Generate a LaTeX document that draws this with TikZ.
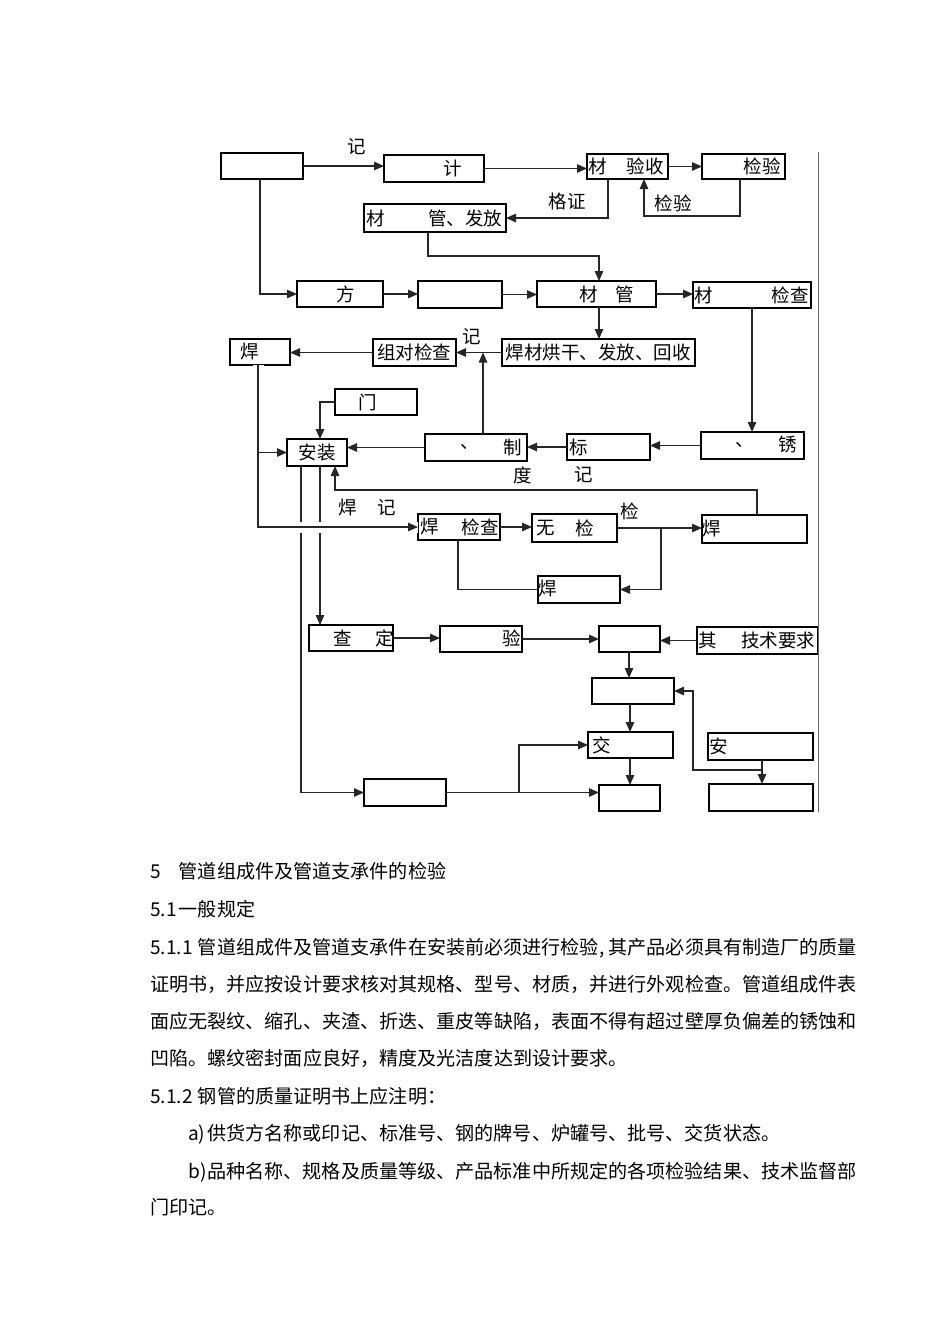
\documentclass[tikz,border=0pt]{standalone}
\usepackage{fontspec}
\setmainfont{Noto Sans CJK SC}
\usetikzlibrary{arrows.meta}
\tikzset{
 box/.style={draw, line width=1.3pt, inner sep=0pt, outer sep=0pt, rectangle},
 conn/.style={line width=1.2pt, draw=black!85},
 arr/.style={conn, -{Triangle[length=10pt,width=8.5pt]}},
 lbl/.style={inner sep=0pt, font=\fontsize{18.5}{18.5}\selectfont},
 body/.style={inner sep=0pt, anchor=base west, font=\fontsize{19.1}{19.1}\selectfont},
}
\newcommand\bx[5]{\node[box, minimum width={(#4-#2)*1pt}, minimum height={(#5-#3)*1pt}] (#1) at ({(#2+#4)/2},{(#3+#5)/2}) {};}
\begin{document}
\begin{tikzpicture}[x=1pt,y=-1pt]
\useasboundingbox (0,0) rectangle (950,1344);
% boxes
\bx{A}{221}{153}{303}{179}
\bx{B}{384}{155}{484}{182}
\bx{C}{587}{154}{668}{179}
\bx{D}{702}{154}{785}{179}
\bx{E}{364}{204}{506}{232}
\bx{F}{297}{281}{383}{307}
\bx{G}{418}{281}{502}{308}
\bx{H}{537}{281}{656}{307}
\bx{I}{693}{282}{811}{308}
\bx{J}{230}{339}{290}{365}
\bx{K}{373}{339}{456}{366}
\bx{L}{502}{339}{695}{366}
\bx{M}{335}{389}{417}{415}
\bx{N}{287}{439}{347}{466}
\bx{O}{425}{434}{527}{461}
\bx{P}{567}{434}{650}{460}
\bx{Q}{701}{432}{804}{459}
\bx{R}{418}{514}{500}{540}
\bx{S}{532}{514}{617}{542}
\bx{T}{702}{515}{807}{543}
\bx{U}{538}{576}{620}{603}
\bx{V}{309}{625}{393}{651}
\bx{W}{440}{626}{522}{652}
\bx{X}{599}{626}{660}{652}
\bx{Y}{697}{627}{818}{654}
\bx{Z}{592}{678}{674}{704}
\bx{AA}{588}{732}{673}{758}
\bx{AB}{708}{733}{813}{760}
\bx{AC}{364}{779}{446}{806}
\bx{AD}{599}{785}{660}{811}
\bx{AE}{709}{784}{813}{811}
% right frame line
\draw[line width=1pt, black!60] (818,152) -- (818,812);
% texts in diagram
\node[lbl] (t1) at (357,147) {记};
\node[lbl] (t2) at (453,168) {计};
\node[lbl] (t3) at (598,166) {材};
\node[lbl] (t4) at (645,166) {验收};
\node[lbl] (t5) at (762,166) {检验};
\node[lbl] (t6) at (567,201) {格证};
\node[lbl] (t7) at (673,203) {检验};
\node[lbl] (t8) at (376,218) {材};
\node[lbl] (t9) at (465,218) {管、发放};
\node[lbl] (t10) at (346,294) {方};
\node[lbl] (t11) at (589,294) {材};
\node[lbl] (t12) at (625,294) {管};
\node[lbl] (t13) at (704,295) {材};
\node[lbl] (t14) at (790,295) {检查};
\node[lbl] (t15) at (250,352) {焊};
\node[lbl] (t16) at (414,352) {组对检查};
\node[lbl] (t17) at (472,337) {记};
\node[lbl] (t18) at (598,352) {焊材烘干、发放、回收};
\node[lbl] (t19) at (368,402) {门};
\node[lbl] (t20) at (317,452) {安装};
\node[lbl] (t21) at (470,447) {、};
\node[lbl] (t22) at (513,447) {制};
\node[lbl] (t23) at (579,447) {标};
\node[lbl] (t24) at (745,445) {、};
\node[lbl] (t25) at (788,445) {锈};
\node[lbl] (t26) at (523,475) {度};
\node[lbl] (t27) at (584,475) {记};
\node[lbl] (t28) at (348,508) {焊};
\node[lbl] (t29) at (387,508) {记};
\node[lbl] (t30) at (430,527) {焊};
\node[lbl] (t31) at (480,527) {检查};
\node[lbl] (t32) at (546,528) {无};
\node[lbl] (t33) at (585,528) {检};
\node[lbl] (t34) at (630,511) {检};
\node[lbl] (t35) at (712,529) {焊};
\node[lbl] (t36) at (548,589) {焊};
\node[lbl] (t37) at (343,638) {查};
\node[lbl] (t38) at (385,638) {定};
\node[lbl] (t39) at (512,638) {验};
\node[lbl] (t40) at (708,640) {其};
\node[lbl] (t41) at (778,640) {技术要求};
\node[lbl] (t42) at (602,745) {交};
\node[lbl] (t43) at (719,746) {安};
% connectors
\draw[arr] (A.east) -- (A.east -| B.west);
\draw[arr] (B.east) -- (B.east -| C.west);
\draw[arr] (C.east) -- (C.east -| D.west);
\draw[arr] (C.south -| 608,0) |- (E.east);
\draw[arr] (D.south -| 740,0) -- ++(0,37) -| (C.south -| 644,0);
\draw[arr] (E.south -| 428,0) -- ++(0,24) -| (H.north -| 599,0);
\draw[arr] (A.south -| 260,0) |- (F.west);
\draw[arr] (F.east) -- (F.east -| G.west);
\draw[arr] (G.east) -- (G.east -| H.west);
\draw[arr] (H.east) -- (H.east -| I.west);
\draw[arr] (H.south -| 599,0) -- (L.north -| 599,0);
\draw[arr] (I.south -| 752,0) -- (Q.north -| 752,0);
\draw[arr] (L.west) -- (L.west -| K.east);
\draw[arr] (K.west) -- (K.west -| J.east);
\draw[arr] (O.north -| 483,0) -- (483,0 |- K.east);
\draw[arr] (Q.west) -- (Q.west -| P.east);
\draw[arr] (P.west) -- (P.west -| O.east);
\draw[arr] (O.west) -- (O.west -| N.east);
\draw[arr] (M.west) -| (N.north -| 320,0);
\draw[arr] (T.north -| 757,0) -- ++(0,-25) -| (N.south -| 335,0);
% lines from N downward (drawn before the crossing line)
\draw[arr] (N.south -| 301,0) |- (AC.west);
\draw[arr] (N.south -| 320,0) -- (V.north -| 320,0);
% J line with gap at crossings
\draw[arr, preaction={draw=white, line width=11pt, -}] (J.south -| 258,0) |- (R.west);
\draw[arr] (258,0 |- N.west) -- (N.west);
\draw[arr] (R.east) -- (R.east -| S.west);
\draw[arr] (S.east) -- (S.east -| T.west);
\draw[arr] (661,0 |- S.east) |- (U.east);
\draw[conn] (R.south -| 458,0) |- (U.west);
\draw[arr] (V.east) -- (V.east -| W.west);
\draw[arr] (W.east) -- (W.east -| X.west);
\draw[arr] (Y.west) -- (Y.west -| X.east);
\draw[arr] (X.south -| 629,0) -- (Z.north -| 629,0);
\draw[arr] (Z.south -| 630,0) -- (AA.north -| 630,0);
\draw[arr] (AA.south -| 630,0) -- (AD.north -| 630,0);
\draw[arr] (AC.east) -- (AC.east -| AD.west);
\draw[arr] (519,0 |- AC.east) |- (AA.west);
\draw[arr] (AB.south -| 762,0) -- (AE.north -| 762,0);
\draw[arr] (762,770) -- (693,770) |- (Z.east);
% body text
\node[body] (b1) at (150,878.5) {\makebox[1.5em][l]{5}管道组成件及管道支承件的检验};
\node[body] (b2) at (150,916.5) {\makebox[1.5em][l]{5.1}一般规定};
\node[body] (b3) at (150,954.5) {\makebox[2.5em][l]{5.1.1}管道组成件及管道支承件在安装前必须进行检验\makebox[0.5em][l]{,}其产品必须具有制造厂的质量};
\node[body] (b4) at (150,991.5) {证明书，并应按设计要求核对其规格、型号、材质，并进行外观检查。管道组成件表};
\node[body] (b5) at (150,1028.5) {面应无裂纹、缩孔、夹渣、折迭、重皮等缺陷，表面不得有超过壁厚负偏差的锈蚀和};
\node[body] (b6) at (150,1065.5) {凹陷。螺纹密封面应良好，精度及光洁度达到设计要求。};
\node[body] (b7) at (150,1103.5) {\makebox[2.5em][l]{5.1.2}钢管的质量证明书上应注明：};
\node[body] (b8) at (188,1140.5) {\makebox[1em][l]{a)}供货方名称或印记、标准号、钢的牌号、炉罐号、批号、交货状态。};
\node[body] (b9) at (188,1178.5) {\makebox[1em][l]{b)}品种名称、规格及质量等级、产品标准中所规定的各项检验结果、技术监督部};
\node[body] (b10) at (150,1214.5) {门印记。};
\end{tikzpicture}
\end{document}
